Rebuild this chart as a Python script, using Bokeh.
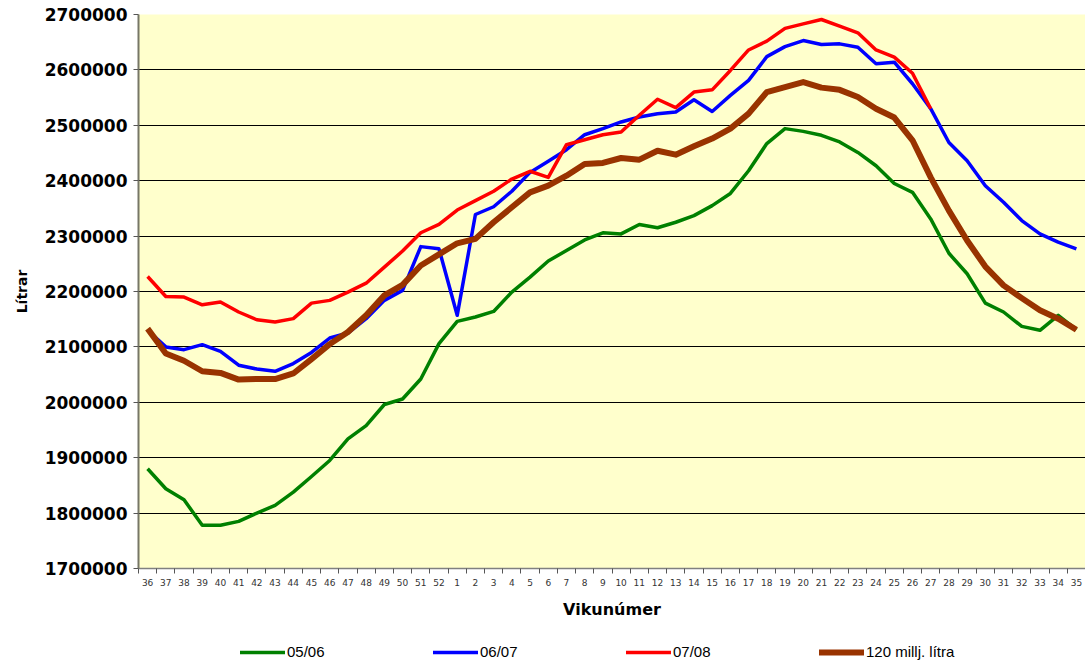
import math
from bokeh.plotting import figure
from bokeh.layouts import column
from bokeh.models import Range1d, FixedTicker, Legend, LegendItem, BasicTickFormatter
from bokeh.embed import file_html
from bokeh.resources import INLINE

weeks = ["36", "37", "38", "39", "40", "41", "42", "43", "44", "45", "46", "47", "48",
         "49", "50", "51", "52", "1", "2", "3", "4", "5", "6", "7", "8", "9", "10",
         "11", "12", "13", "14", "15", "16", "17", "18", "19", "20", "21", "22", "23",
         "24", "25", "26", "27", "28", "29", "30", "31", "32", "33", "34", "35"]

s_05_06 = [1880000, 1844000, 1824000, 1778000, 1778000, 1785000, 1800000, 1814000, 1838000,
           1866000, 1895000, 1934000, 1958000, 1996000, 2006000, 2042000, 2106000,
           2146000, 2154000, 2164000, 2199000, 2226000, 2255000, 2274000, 2293000, 2306000,
           2304000, 2321000, 2315000, 2325000, 2337000, 2355000, 2377000, 2418000, 2467000,
           2494000, 2489000, 2482000, 2470000, 2451000, 2427000, 2395000, 2379000, 2331000,
           2269000, 2232000, 2179000, 2163000, 2137000, 2130000, 2157000, 2131000]

s_06_07 = [2130000, 2100000, 2095000, 2104000, 2092000, 2067000, 2060000, 2056000, 2070000,
           2090000, 2116000, 2125000, 2151000, 2184000, 2202000, 2281000, 2277000,
           2157000, 2339000, 2353000, 2381000, 2415000, 2435000, 2456000, 2483000, 2494000,
           2506000, 2515000, 2521000, 2524000, 2546000, 2525000, 2554000, 2581000, 2624000,
           2642000, 2653000, 2646000, 2647000, 2641000, 2611000, 2614000, 2575000, 2530000,
           2469000, 2436000, 2391000, 2361000, 2328000, 2304000, 2289000, 2277000]

s_07_08 = [2227000, 2191000, 2190000, 2176000, 2181000, 2163000, 2149000, 2145000, 2151000,
           2179000, 2184000, 2199000, 2215000, 2244000, 2273000, 2306000, 2321000,
           2347000, 2364000, 2381000, 2403000, 2417000, 2406000, 2465000, 2474000, 2483000,
           2488000, 2518000, 2547000, 2532000, 2560000, 2564000, 2599000, 2636000, 2652000,
           2675000, 2683000, 2691000, 2679000, 2667000, 2636000, 2623000, 2594000, 2530000,
           math.nan, math.nan, math.nan, math.nan, math.nan, math.nan, math.nan, math.nan]

s_120 = [2133000, 2088000, 2075000, 2056000, 2053000, 2041000, 2042000, 2042000, 2052000,
         2078000, 2105000, 2127000, 2157000, 2193000, 2212000, 2247000, 2267000,
         2287000, 2295000, 2325000, 2352000, 2379000, 2391000, 2409000, 2430000, 2432000,
         2441000, 2438000, 2454000, 2447000, 2462000, 2476000, 2494000, 2521000, 2560000,
         2569000, 2578000, 2568000, 2564000, 2551000, 2530000, 2514000, 2473000, 2406000,
         2346000, 2292000, 2245000, 2211000, 2188000, 2166000, 2151000, 2131000]

y_ticks = [1700000, 1800000, 1900000, 2000000, 2100000, 2200000, 2300000, 2400000,
           2500000, 2600000, 2700000]

series_names = ["05/06", "06/07", "07/08", "120 millj. lítra"]
series_colors = ["#008000", "#0000FF", "#FF0000", "#993300"]
series_widths = [3.5, 3.5, 3.5, 6]

x = list(range(len(weeks)))
all_series = [s_05_06, s_06_07, s_07_08, s_120]

p = figure(width=1085, height=621, output_backend="svg", toolbar_location=None,
           x_range=Range1d(-0.5, len(weeks) - 0.5),
           y_range=Range1d(y_ticks[0], y_ticks[-1]),
           min_border_left=138, min_border_right=0, min_border_top=14, min_border_bottom=53)

p.background_fill_color = "#FFFFCC"
p.border_fill_color = "white"
p.outline_line_color = None

# grid
p.xgrid.grid_line_color = None
p.ygrid.grid_line_color = "black"
p.ygrid.grid_line_width = 1

# x axis
p.xaxis.ticker = FixedTicker(ticks=x, minor_ticks=[i - 0.5 for i in range(len(weeks) + 1)])
p.xaxis.major_label_overrides = {i: w for i, w in enumerate(weeks)}
p.xaxis.major_tick_line_color = None
p.xaxis.major_tick_out = 0
p.xaxis.major_tick_in = 0
p.xaxis.minor_tick_line_color = "#555555"
p.xaxis.minor_tick_out = 5
p.xaxis.minor_tick_in = 0
p.xaxis.major_label_standoff = 5
p.xaxis.major_label_text_font = "DejaVu Sans"
p.xaxis.major_label_text_font_size = "9px"
p.xaxis.major_label_text_color = "#333333"
p.xaxis.axis_line_color = "#808080"
p.xaxis.axis_line_width = 1.5
p.xaxis.axis_label = "Vikunúmer"
p.xaxis.axis_label_text_font = "DejaVu Sans"
p.xaxis.axis_label_text_font_style = "bold"
p.xaxis.axis_label_text_font_size = "16px"
p.xaxis.axis_label_text_color = "black"
p.xaxis.axis_label_standoff = 11

# y axis
p.yaxis.ticker = FixedTicker(ticks=y_ticks, minor_ticks=[])
p.yaxis.formatter = BasicTickFormatter(use_scientific=False)
p.yaxis.major_tick_out = 5
p.yaxis.major_tick_in = 0
p.yaxis.major_tick_line_color = "#555555"
p.yaxis.minor_tick_line_color = None
p.yaxis.major_label_standoff = 6
p.yaxis.major_label_text_font = "DejaVu Sans"
p.yaxis.major_label_text_font_style = "bold"
p.yaxis.major_label_text_font_size = "17px"
p.yaxis.major_label_text_color = "black"
p.yaxis.axis_line_color = "#777766"
p.yaxis.axis_line_width = 2
p.yaxis.axis_label = "Lítrar"
p.yaxis.axis_label_text_font = "DejaVu Sans"
p.yaxis.axis_label_text_font_style = "bold"
p.yaxis.axis_label_text_font_size = "14px"
p.yaxis.axis_label_text_color = "black"
p.yaxis.axis_label_standoff = 12

for vals, col, lw in zip(all_series, series_colors, series_widths):
    p.line(x, vals, line_color=col, line_width=lw, line_join="round")

# legend strip below the chart (its lines lie outside its own ranges, only the legend shows)
lg = figure(width=1085, height=42, output_backend="svg", toolbar_location=None,
            x_axis_type=None, y_axis_type=None,
            x_range=Range1d(-0.5, len(weeks) - 0.5), y_range=Range1d(0, 1),
            min_border_left=138, min_border_right=0, min_border_top=0, min_border_bottom=0)
lg.outline_line_color = None
lg.xgrid.grid_line_color = None
lg.ygrid.grid_line_color = None
lg.background_fill_color = "white"
lg.border_fill_color = "white"

items = []
for name, vals, col, lw in zip(series_names, all_series, series_colors, series_widths):
    r = lg.line(x, vals, line_color=col, line_width=lw, line_cap="round")
    items.append(LegendItem(label=name, renderers=[r]))

legend = Legend(items=items, orientation="horizontal", location=(102, 3),
                border_line_color=None, background_fill_alpha=0,
                padding=0, margin=0, spacing=30,
                glyph_width=45, glyph_height=16, label_height=16, label_width=116,
                label_standoff=2,
                label_text_font="Liberation Sans", label_text_font_size="15px",
                label_text_color="black")
lg.add_layout(legend, "center")

layout = column(p, lg, spacing=0)
open("out.html", "w").write(file_html(layout, INLINE))
